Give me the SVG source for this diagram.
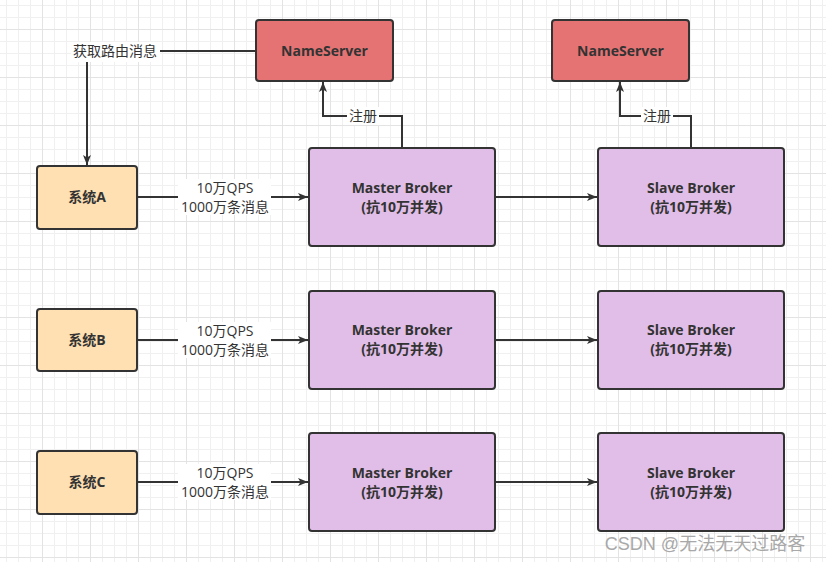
<svg xmlns="http://www.w3.org/2000/svg" width="826" height="562" viewBox="0 0 826 562">
<style>
.t{font-family:"Open Sans","Noto Sans CJK SC",sans-serif;font-size:14px;fill:#333;text-anchor:middle}
.b{font-weight:bold}
.n{stroke:#333;stroke-width:2}
.ns{fill:#e57373}
.sys{fill:#ffe0b2}
.br{fill:#e1bee7}
.c{fill:none;stroke:#333;stroke-width:2}
.lb{fill:#fff}
</style>
<defs>
<pattern id="g" x="42" y="29" width="48" height="48" patternUnits="userSpaceOnUse">
<path d="M12.5 0V48M24.5 0V48M36.5 0V48M0 12.5H48M0 24.5H48M0 36.5H48" stroke="#f0f0f0" stroke-width="1"/>
<path d="M0.5 0V48M0 0.5H48" stroke="#e3e3e3" stroke-width="1"/>
</pattern>
<marker id="a" markerUnits="userSpaceOnUse" markerWidth="12" markerHeight="10" refX="10" refY="4" orient="auto" viewBox="0 0 12 8">
<path d="M0 0L10 4L0 8L2.5 4z" fill="#333"/>
</marker>
</defs>
<rect width="826" height="562" fill="#fff"/>
<rect width="826" height="562" fill="url(#g)"/>
<g id="connectors">
<path class="c" d="M256 51H87V165" marker-end="url(#a)"/>
<path class="c" d="M402 148V116H323V82" marker-end="url(#a)"/>
<path class="c" d="M691 148V116H620V82" marker-end="url(#a)"/>
<path class="c" d="M137 197H308" marker-end="url(#a)"/>
<path class="c" d="M137 340H308" marker-end="url(#a)"/>
<path class="c" d="M137 482H308" marker-end="url(#a)"/>
<path class="c" d="M495 197H597" marker-end="url(#a)"/>
<path class="c" d="M495 340H597" marker-end="url(#a)"/>
<path class="c" d="M495 482H597" marker-end="url(#a)"/>
<rect class="lb" x="71" y="42" width="89" height="20"/>
<text class="t" x="115" y="56">获取路由消息</text>
<rect class="lb" x="347" y="107" width="32" height="18"/>
<text class="t" x="363" y="121">注册</text>
<rect class="lb" x="641" y="107" width="32" height="18"/>
<text class="t" x="657" y="121">注册</text>
<rect class="lb" x="178" y="179" width="93" height="36"/>
<text class="t" x="225" y="193">10万QPS</text>
<text class="t" x="225" y="212">1000万条消息</text>
<rect class="lb" x="178" y="322" width="93" height="36"/>
<text class="t" x="225" y="336">10万QPS</text>
<text class="t" x="225" y="355">1000万条消息</text>
<rect class="lb" x="178" y="464" width="93" height="36"/>
<text class="t" x="225" y="478">10万QPS</text>
<text class="t" x="225" y="497">1000万条消息</text>
</g>
<g id="nameserver1"><rect class="n ns" x="256" y="20" width="137" height="61" rx="3"/><text class="t b" x="324.5" y="56">NameServer</text></g>
<g id="nameserver2"><rect class="n ns" x="552" y="20" width="137" height="61" rx="3"/><text class="t b" x="620.5" y="56">NameServer</text></g>
<g id="systemA"><rect class="n sys" x="37" y="166" width="100" height="63" rx="3"/><text class="t b" x="87" y="202">系统A</text></g>
<g id="systemB"><rect class="n sys" x="37" y="309" width="100" height="62" rx="3"/><text class="t b" x="87" y="345">系统B</text></g>
<g id="systemC"><rect class="n sys" x="37" y="451" width="100" height="63" rx="3"/><text class="t b" x="87" y="487">系统C</text></g>
<g id="masterA"><rect class="n br" x="309" y="148" width="186" height="98" rx="3"/><text class="t b" x="402" y="193">Master Broker</text><text class="t b" x="402" y="212">(抗10万并发)</text></g>
<g id="masterB"><rect class="n br" x="309" y="291" width="186" height="98" rx="3"/><text class="t b" x="402" y="335">Master Broker</text><text class="t b" x="402" y="354">(抗10万并发)</text></g>
<g id="masterC"><rect class="n br" x="309" y="433" width="186" height="98" rx="3"/><text class="t b" x="402" y="478">Master Broker</text><text class="t b" x="402" y="497">(抗10万并发)</text></g>
<g id="slaveA"><rect class="n br" x="598" y="148" width="186" height="98" rx="3"/><text class="t b" x="691" y="193">Slave Broker</text><text class="t b" x="691" y="212">(抗10万并发)</text></g>
<g id="slaveB"><rect class="n br" x="598" y="291" width="186" height="98" rx="3"/><text class="t b" x="691" y="335">Slave Broker</text><text class="t b" x="691" y="354">(抗10万并发)</text></g>
<g id="slaveC"><rect class="n br" x="598" y="433" width="186" height="98" rx="3"/><text class="t b" x="691" y="478">Slave Broker</text><text class="t b" x="691" y="497">(抗10万并发)</text></g>
<text x="705" y="550" style="font-family:'Liberation Sans','Noto Sans CJK SC',sans-serif;font-size:18px;fill:#a8a8a8;text-anchor:middle">CSDN @无法无天过路客</text>
</svg>
